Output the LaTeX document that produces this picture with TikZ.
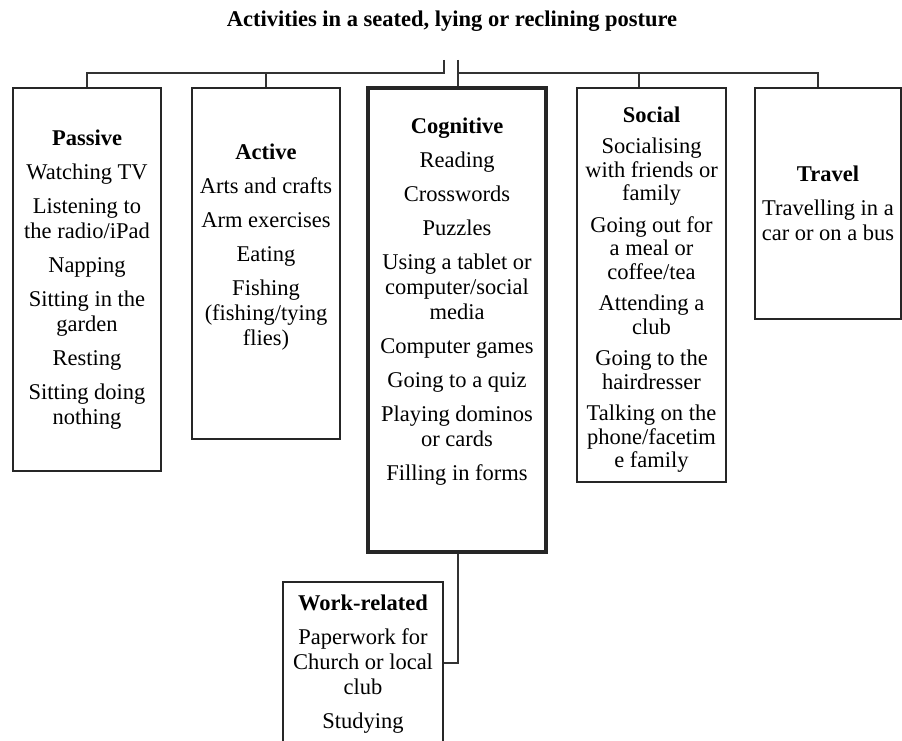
\documentclass[tikz,border=0pt]{standalone}
\usepackage{fontspec}
\setmainfont{Liberation Serif}
\usetikzlibrary{positioning,calc}

\begin{document}
\begin{tikzpicture}[x=1pt,y=-1pt]
		\tikzset{
			catbox/.style={draw=black!85,line width=1.6pt,rectangle,inner sep=0pt},
			cattext/.style={align=center,inner sep=0pt,font=\fontsize{22.5}{25}\selectfont},
			link/.style={draw=black!80,line width=1.4pt},
		}
		\clip (0,0) rectangle (902,741);
		\node[font=\fontsize{22.5}{25}\selectfont\bfseries] (title) at (452,21) {Activities in a seated, lying or reclining posture};

		\node[catbox,minimum width=148,minimum height=383] (pas) at (87,279.5) {};
		\node[catbox,minimum width=148,minimum height=351] (act) at (266,263.5) {};
		\node[catbox,line width=3.2pt,minimum width=178,minimum height=464] (cog) at (457,320) {};
		\node[catbox,minimum width=149,minimum height=394] (soc) at (651.5,285) {};
		\node[catbox,minimum width=146,minimum height=231] (trv) at (828,203.5) {};
		\node[catbox,minimum width=160,minimum height=162] (wrk) at (363,663) {};

		\node[cattext,below=42pt of pas.north] (pasT) {\textbf{Passive}\\[9pt]
			Watching TV\\[9pt] Listening to\\ the radio/iPad\\[9pt] Napping\\[9pt]
			Sitting in the\\ garden\\[9pt] Resting\\[9pt] Sitting doing\\ nothing};
		\node[cattext,below=56pt of act.north] (actT) {\textbf{Active}\\[9pt]
			Arts and crafts\\[9pt] Arm exercises\\[9pt] Eating\\[9pt]
			Fishing\\ (fishing/tying\\ flies)};
		\node[cattext,below=31pt of cog.north] (cogT) {\textbf{Cognitive}\\[9pt]
			Reading\\[9pt] Crosswords\\[9pt] Puzzles\\[9pt] Using a tablet or\\
			computer/social\\ media\\[9pt] Computer games\\[9pt] Going to a quiz\\[9pt]
			Playing dominos\\ or cards\\[9pt] Filling in forms};
		\node[cattext,font=\fontsize{22.5}{23.5}\selectfont,below=19pt of soc.north] (socT) {\textbf{Social}\\[8pt]
			Socialising\\ with friends or\\ family\\[8pt] Going out for\\ a meal or\\
			coffee/tea\\[8pt] Attending a\\ club\\[8pt] Going to the\\ hairdresser\\[8pt]
			Talking on the\\ phone/facetim\\ e family};
		\node[cattext,below=78pt of trv.north] (trvT) {\textbf{Travel}\\[9pt]
			Travelling in a\\ car or on a bus};
		\node[cattext,below=13pt of wrk.north] (wrkT) {\textbf{Work-related}\\[9pt]
			Paperwork for\\ Church or local\\ club\\[9pt] Studying};

		\coordinate (bar) at (0,73);
		\coordinate (tl) at (444,60);
		\coordinate (tr) at (458,60);
		\coordinate (socK) at ([xshift=-12.5pt]soc.north);
		\coordinate (trvK) at ([xshift=-10pt]trv.north);
		\draw[link] (tl) -- (tl |- bar) -| (pas.north);
		\draw[link] (act.north) -- (act.north |- bar);
		\draw[link] (tr) -- (tr |- cog.north);
		\draw[link] (tr |- bar) -| (trvK);
		\draw[link] (socK) -- (socK |- bar);
		\draw[link] (tr |- cog.south) |- (wrk.east);
	\end{tikzpicture}
\end{document}
